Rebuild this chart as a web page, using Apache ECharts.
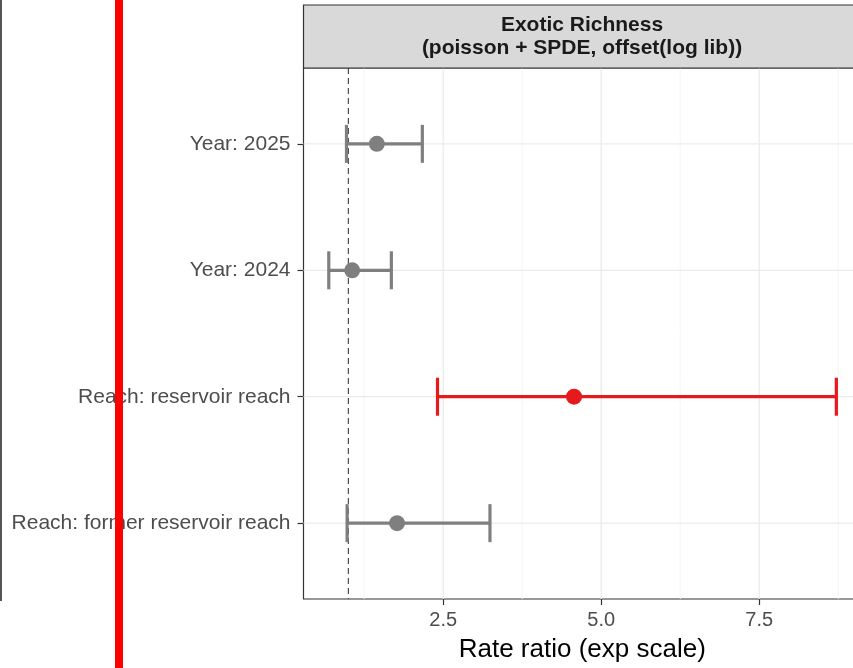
<!DOCTYPE html>
<html>
<head>
<meta charset="utf-8">
<script src="https://cdn.jsdelivr.net/npm/echarts@6/dist/echarts.min.js"></script>
<style>
  html, body { margin: 0; padding: 0; background: #ffffff; overflow: hidden; }
  /* the panel runs past the right edge of the window */
  #chart { width: 872px; height: 668px; }
</style>
</head>
<body>
<div id="chart"></div>
<script>
// Model terms, bottom to top
const terms = ['Reach: former reservoir reach', 'Reach: reservoir reach', 'Year: 2024', 'Year: 2025'];
// Rate ratios with 95% interval bounds
const estimate = [1.77, 4.57, 1.06, 1.45];
const lower    = [0.98, 2.41, 0.69, 0.97];
const upper    = [3.24, 8.72, 1.68, 2.17];
// Axis ticks
const xTicks = [2.5, 5.0, 7.5];
const xMinorTicks = [1.25, 3.75, 6.25, 8.75];
const refValue = 1;

const FONT = '"Liberation Sans", Arial, Helvetica, sans-serif';
const GREY = '#7f7f7f';
const RED = '#E41A1C';

// interval excluding 1 is highlighted
const colorOf = i => (lower[i] > refValue || upper[i] < refValue) ? RED : GREY;
const yPos = terms.map((_, i) => i + 1);

const barData = terms.map((_, i) => [lower[i], yPos[i], upper[i], i]);
const pointData = terms.map((_, i) => ({ value: [estimate[i], yPos[i]], itemStyle: { color: colorOf(i), opacity: 1 } }));

// panel grid lines: [axis (0 = vertical, 1 = horizontal), value, major flag]
const gridData = [].concat(
  xMinorTicks.map(v => [0, v, 0]),
  xTicks.map(v => [0, v, 1]),
  yPos.map(v => [1, v, 1])
);

function renderGridLine(params, api) {
  const cs = params.coordSys;
  const dir = api.value(0), v = api.value(1), major = api.value(2);
  const style = { stroke: major ? '#ebebeb' : '#f5f5f5', lineWidth: major ? 1.3 : 1 };
  if (dir === 0) {
    const x = api.coord([v, 1])[0];
    return { type: 'line', shape: { x1: x, y1: cs.y, x2: x, y2: cs.y + cs.height }, style };
  }
  const y = api.coord([1, v])[1];
  return { type: 'line', shape: { x1: cs.x, y1: y, x2: cs.x + cs.width, y2: y }, style };
}

function renderRefLine(params, api) {
  const cs = params.coordSys;
  const x = api.coord([api.value(0), 1])[0];
  return {
    type: 'line',
    shape: { x1: x, y1: cs.y, x2: x, y2: cs.y + cs.height },
    style: { stroke: '#4d4d4d', lineWidth: 1.2, lineDash: [6, 4] }
  };
}

function renderErrorBar(params, api) {
  const lo = api.coord([api.value(0), api.value(1)]);
  const hi = api.coord([api.value(2), api.value(1)]);
  const color = colorOf(api.value(3));
  const cap = 19;
  const style = { stroke: color, lineWidth: 3.2, lineCap: 'butt' };
  return {
    type: 'group',
    children: [
      { type: 'line', shape: { x1: lo[0], y1: lo[1], x2: hi[0], y2: hi[1] }, style },
      { type: 'line', shape: { x1: lo[0], y1: lo[1] - cap, x2: lo[0], y2: lo[1] + cap }, style },
      { type: 'line', shape: { x1: hi[0], y1: hi[1] - cap, x2: hi[0], y2: hi[1] + cap }, style }
    ]
  };
}

const chart = echarts.init(document.getElementById('chart'), null, { renderer: 'canvas' });

chart.setOption({
  backgroundColor: '#ffffff',
  animation: false,
  textStyle: { fontFamily: FONT },
  grid: {
    left: 303.5, right: 11, top: 68, bottom: 68,
    show: true, borderColor: '#333333', borderWidth: 1.2, backgroundColor: 'transparent'
  },
  xAxis: {
    type: 'value', min: 0.29, max: 9.11,
    axisLine: { show: false },
    splitLine: { show: false },
    axisTick: { show: true, customValues: xTicks, length: 6, lineStyle: { color: '#333333', width: 1.2 } },
    axisLabel: { customValues: xTicks, formatter: v => v.toFixed(1), color: '#4d4d4d', fontSize: 20, margin: 11, fontFamily: FONT },
    name: 'Rate ratio (exp scale)',
    nameLocation: 'middle', nameGap: 38,
    nameTextStyle: { fontSize: 26, color: '#000000', fontFamily: FONT }
  },
  yAxis: {
    type: 'value', min: 0.4, max: 4.6,
    axisLine: { show: false },
    splitLine: { show: false },
    axisTick: { show: true, customValues: yPos, length: 6, lineStyle: { color: '#333333', width: 1.2 } },
    axisLabel: { customValues: yPos, formatter: v => terms[Math.round(v) - 1], color: '#4d4d4d', fontSize: 21, margin: 13, fontFamily: FONT }
  },
  graphic: [
    // strip header
    { type: 'rect', z: 10, shape: { x: 303.5, y: 5, width: 580, height: 63 },
      style: { fill: '#d9d9d9', stroke: '#333333', lineWidth: 1.2 } },
    { type: 'text', z: 11, x: 582, y: 25,
      style: { text: 'Exotic Richness', font: 'bold 21px ' + FONT, fill: '#1a1a1a', align: 'center', verticalAlign: 'middle' } },
    { type: 'text', z: 11, x: 582, y: 48,
      style: { text: '(poisson + SPDE, offset(log lib))', font: 'bold 21px ' + FONT, fill: '#1a1a1a', align: 'center', verticalAlign: 'middle' } },
    // neighbouring panel edge
    { type: 'rect', z: 10, shape: { x: 0, y: 0, width: 2, height: 601 }, style: { fill: '#555555' } },
    // red marker bar
    { type: 'rect', z: 20, shape: { x: 115, y: 0, width: 8, height: 668 }, style: { fill: '#ff0000' } }
  ],
  series: [
    {
      type: 'custom', z: 1, silent: true, renderItem: renderGridLine,
      encode: { x: 1, y: 1 }, data: gridData, clip: true
    },
    {
      type: 'custom', z: 2, silent: true, renderItem: renderRefLine,
      encode: { x: 0, y: 0 }, data: [[refValue]]
    },
    {
      type: 'custom', z: 3, renderItem: renderErrorBar,
      encode: { x: [0, 2], y: 1 }, data: barData
    },
    {
      type: 'scatter', z: 4, symbol: 'circle', symbolSize: 16, data: pointData,
      itemStyle: { opacity: 1 }
    }
  ]
});
</script>
</body>
</html>
